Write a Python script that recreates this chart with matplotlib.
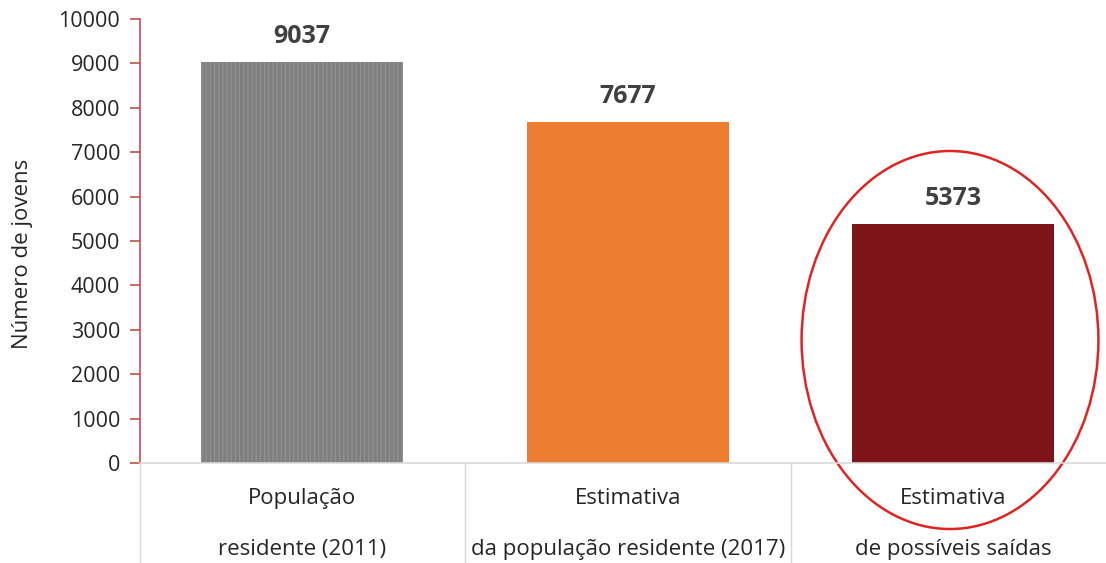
import matplotlib
matplotlib.use("Agg")
import matplotlib.pyplot as plt
from matplotlib.patches import Ellipse

categories_line1 = ["População", "Estimativa", "Estimativa"]
categories_line2 = ["residente (2011)", "da população residente (2017)", "de possíveis saídas"]
values = [9037, 7677, 5373]
colors = ["#7f7f7f", "#ed7d31", "#7f1418"]
y_ticks = [0, 1000, 2000, 3000, 4000, 5000, 6000, 7000, 8000, 9000, 10000]
y_label = "Número de jovens"

plt.rcParams['font.family'] = ['Open Sans', 'DejaVu Sans']
plt.rcParams['hatch.color'] = '#909090'
plt.rcParams['hatch.linewidth'] = 0.8

W, H = 1106, 563
fig = plt.figure(figsize=(W / 100, H / 100), dpi=100)
left_px, right_px = 139.5, 1116
top_px, bot_px = 19, 463
ax = fig.add_axes([left_px / W, 1 - bot_px / H, (right_px - left_px) / W, (bot_px - top_px) / H])

x = list(range(len(values)))
bars = ax.bar(x, values, width=0.62, color=colors, linewidth=0)
bars[0].set_hatch('||||')
bars[0].set_edgecolor('#929292')

ax.set_xlim(-0.5, 2.5)
ax.set_ylim(0, 10000)
ax.set_yticks(y_ticks)
ax.set_yticklabels([str(t) for t in y_ticks], fontsize=15.5, color='#262626')
ax.tick_params(axis='y', length=7, width=1.2, color='#c0504d', pad=7)
ax.set_xticks([])

for s in ['top', 'right']:
    ax.spines[s].set_visible(False)
ax.spines['left'].set_color('#c0504d')
ax.spines['left'].set_linewidth(1.2)
ax.spines['bottom'].set_color('#d9d9d9')
ax.spines['bottom'].set_linewidth(1.2)

ax.set_ylabel(y_label, fontsize=16, color='#262626')
ax.yaxis.set_label_coords(-0.109, 0.47)

for xi, v in zip(x, values):
    ax.text(xi, v + 430, str(v), ha='center', va='baseline', fontsize=18,
            fontweight='bold', color='#404040')

# category separators below axis
for xb in [-0.5, 0.5, 1.5]:
    ax.plot([xb, xb], [0, -2300], color='#d9d9d9', lw=1, clip_on=False)

for xi, l1, l2 in zip(x, categories_line1, categories_line2):
    ax.text(xi, -800, l1, ha='center', va='center', fontsize=16, color='#262626')
    ax.text(xi, -1950, l2, ha='center', va='center', fontsize=16, color='#262626')

ell = Ellipse((1.99, 2770), width=0.912, height=8514, fill=False,
              edgecolor='#e02424', lw=1.8, clip_on=False)
ax.add_patch(ell)

fig.savefig("out.png", dpi=100)
